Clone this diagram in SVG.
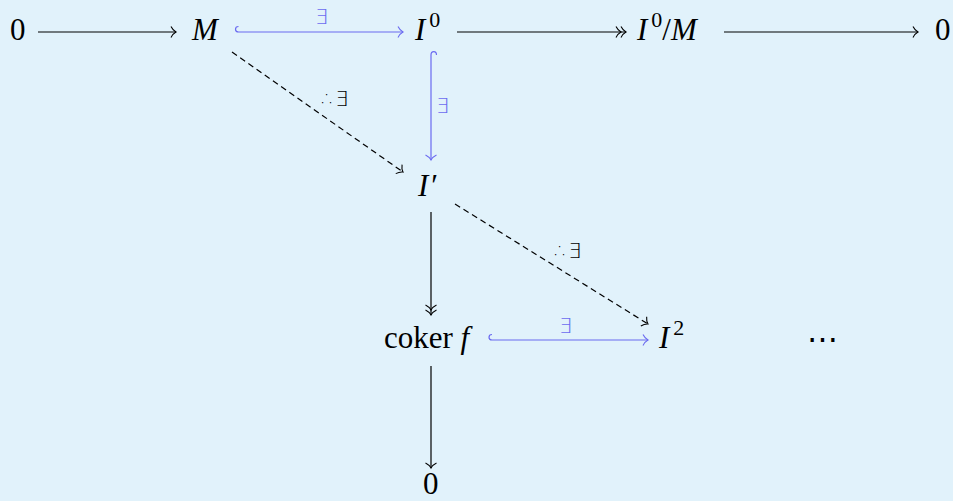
<svg xmlns="http://www.w3.org/2000/svg" width="953" height="501" viewBox="0 0 953 501">
<style>
.m{font-size:31px;fill:#000}
.i{font-style:italic}
.sup{font-size:22px}
.lbl{font-family:"DejaVu Sans",sans-serif;font-size:21px;font-weight:300}
.blk{stroke:#000;stroke-width:1.2;fill:none}
.blu{stroke:#6b6bf0;stroke-width:1.2;fill:none}
.dash{stroke-dasharray:6 4}
</style>
<defs>
<marker id="tk" markerUnits="userSpaceOnUse" orient="auto" overflow="visible" refX="0" refY="0" markerWidth="12" markerHeight="12" viewBox="-8 -6 10 12">
<path d="M-5,-5.5 C-3.5,-2.5 -1.5,-0.8 0,0 C-1.5,0.8 -3.5,2.5 -5,5.5" fill="none" stroke="#000" stroke-width="1.1"/>
</marker>
<marker id="tk2" markerUnits="userSpaceOnUse" orient="auto" overflow="visible" refX="0" refY="0" markerWidth="16" markerHeight="12" viewBox="-14 -6 16 12">
<path d="M-5,-5.5 C-3.5,-2.5 -1.5,-0.8 0,0 C-1.5,0.8 -3.5,2.5 -5,5.5 M-10,-5.5 C-8.5,-2.5 -6.5,-0.8 -5,0 C-6.5,0.8 -8.5,2.5 -10,5.5" fill="none" stroke="#000" stroke-width="1.1"/>
</marker>
<marker id="tb" markerUnits="userSpaceOnUse" orient="auto" overflow="visible" refX="0" refY="0" markerWidth="12" markerHeight="12" viewBox="-8 -6 10 12">
<path d="M-5,-5.5 C-3.5,-2.5 -1.5,-0.8 0,0 C-1.5,0.8 -3.5,2.5 -5,5.5" fill="none" stroke="#6b6bf0" stroke-width="1.1"/>
</marker>
</defs>
<rect width="953" height="501" fill="#e1f2fb"/>
<g id="connectors">
<path class="blk" d="M38,32 L176,32" marker-end="url(#tk)"/>
<path class="blu" d="M238.5,26.5 C234.5,26.5 234.5,32 238.5,32 L403,32" marker-end="url(#tb)"/>
<path class="blk" d="M457,32 L626,32" marker-end="url(#tk2)"/>
<path class="blk" d="M724,32 L918,32" marker-end="url(#tk)"/>
<path class="blu" d="M436.5,55 C436.5,50.5 431,50.5 431,55 L431,160" marker-end="url(#tb)"/>
<path class="blk dash" d="M232,52 L403,172" marker-end="url(#tk)"/>
<path class="blk dash" d="M455,204 L648,324" marker-end="url(#tk)"/>
<path class="blk" d="M431,212 L431,315" marker-end="url(#tk2)"/>
<path class="blu" d="M492,334.5 C488,334.5 488,340 492,340 L648,340" marker-end="url(#tb)"/>
<path class="blk" d="M431,366 L431,468" marker-end="url(#tk)"/>
<text class="lbl" x="315" y="24" fill="#6b6bf0">∃</text>
<text class="lbl" x="436" y="113" fill="#6b6bf0">∃</text>
<text class="lbl" x="559" y="333" fill="#6b6bf0">∃</text>
<text class="lbl" x="322" y="106" fill="#000">∴∃</text>
<text class="lbl" x="555" y="258" fill="#000">∴∃</text>
</g>
<g font-family="Liberation Serif, DejaVu Serif, serif">
<g id="n0a"><text class="m" x="10" y="40">0</text></g>
<g id="nM"><text class="m i" x="192" y="40">M</text></g>
<g id="nI0"><text class="m" x="415" y="40"><tspan class="i">I</tspan><tspan class="sup" dx="4" dy="-13">0</tspan></text></g>
<g id="nI0M"><text class="m" x="637" y="40"><tspan class="i">I</tspan><tspan class="sup" dx="4" dy="-13">0</tspan><tspan dx="0" dy="13">/</tspan><tspan class="i">M</tspan></text></g>
<g id="n0b"><text class="m" x="935" y="40">0</text></g>
<g id="nIp"><text class="m" x="418" y="196"><tspan class="i">I</tspan><tspan dx="3">′</tspan></text></g>
<g id="ncoker"><text class="m" x="384" y="348">coker <tspan class="i">f</tspan></text></g>
<g id="nI2"><text class="m" x="659" y="348"><tspan class="i">I</tspan><tspan class="sup" dx="4" dy="-13">2</tspan></text></g>
<g id="ndots"><text class="m" x="807" y="350">⋯</text></g>
<g id="n0c"><text class="m" x="423" y="494">0</text></g>
</g>
</svg>
